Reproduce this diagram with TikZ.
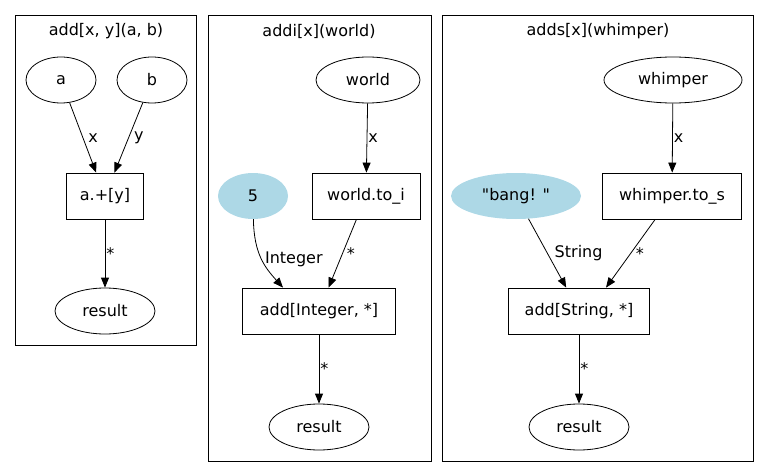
\documentclass[tikz,border=0pt]{standalone}
\usepackage{fontspec}
\setmainfont{DejaVu Sans}[Ligatures=TeXOff]
\usetikzlibrary{calc,shapes.geometric,arrows.meta}
\tikzset{
  argplace/.style   = {ellipse, draw, line width=0.8pt, inner sep=0pt, minimum height=46pt},
  constplace/.style = {ellipse, draw=none, inner sep=0pt, minimum height=46pt},
  opbox/.style      = {rectangle, draw, line width=0.8pt, inner sep=0pt, minimum height=46pt},
  clusterbox/.style = {draw, line width=0.8pt},
  flow/.style       = {-{Triangle[length=10pt,width=8pt]}, line width=0.8pt},
  flowlab/.style    = {midway, anchor=west, inner sep=0pt},
}
\definecolor{lightblue}{RGB}{173,216,230}
\begin{document}
\begin{tikzpicture}[x=1pt, y=-1pt, font=\fontsize{16}{19}\selectfont]
\useasboundingbox (0,0) rectangle (768,476);
% clusters
\draw[clusterbox] (15,15) rectangle (196,345);
\draw[clusterbox] (208,15) rectangle (431,461);
\draw[clusterbox] (442,15) rectangle (753,461);
\node (t1) at (106,31) {add[x, y](a, b)};
\node (t2) at (319,31) {addi[x](world)};
\node (t3) at (598,31) {adds[x](whimper)};

% add[x, y](a, b)
\node[argplace, minimum width=70pt]  (a)    at (61,80)   {a};
\node[argplace, minimum width=70pt]  (b)    at (152,80)  {b};
\node[opbox, minimum width=77pt]     (plus) at (105,196) {a.+[y]};
\node[argplace, minimum width=100pt] (r1)   at (105,311) {result};
\draw[flow] (a) -- (plus) node[flowlab, xshift=5pt] {x};
\draw[flow] (b) -- (plus) node[flowlab, xshift=5pt] {y};
\draw[flow] (plus) -- (r1) node[flowlab, xshift=1pt] {*};

% addi[x](world)
\node[argplace, minimum width=104pt] (world)  at (368,80)  {world};
\node[opbox, minimum width=108pt]    (toi)    at (366,196) {world.to\_i};
\node[constplace, fill=lightblue, minimum width=70pt] (five) at (253,196) {5};
\node[opbox, minimum width=153pt]    (addint) at (319,311) {add[Integer, *]};
\node[argplace, minimum width=100pt] (r2)     at (319,427) {result};
\draw[flow] (world) -- (toi) node[flowlab, xshift=1pt] {x};
\draw[flow] (five) .. controls ($(five.south)+(1,35)$) and ($(addint.north)+(-54,-20)$)
  .. ($(addint.north)+(-36,0)$) node[flowlab, xshift=3pt] {Integer};
\draw[flow] (toi) -- (addint) node[flowlab, xshift=4pt] {*};
\draw[flow] (addint) -- (r2) node[flowlab, xshift=1pt] {*};

% adds[x](whimper)
\node[argplace, minimum width=138pt] (whimper) at (673,80)  {whimper};
\node[opbox, minimum width=139pt]    (tos)     at (672,196) {whimper.to\_s};
\node[constplace, fill=lightblue, minimum width=130pt] (bang) at (516,196) {"bang! "};
\node[opbox, minimum width=141pt]    (addstr)  at (579,311) {add[String, *]};
\node[argplace, minimum width=100pt] (r3)      at (579,427) {result};
\draw[flow] (whimper) -- (tos) node[flowlab, xshift=1pt] {x};
\draw[flow] (bang) -- (addstr) node[flowlab, xshift=7pt] {String};
\draw[flow] (tos) -- ($(addstr.north)+(27,0)$) node[flowlab, xshift=5pt] {*};
\draw[flow] (addstr) -- (r3) node[flowlab, xshift=1pt] {*};
\end{tikzpicture}
\end{document}
